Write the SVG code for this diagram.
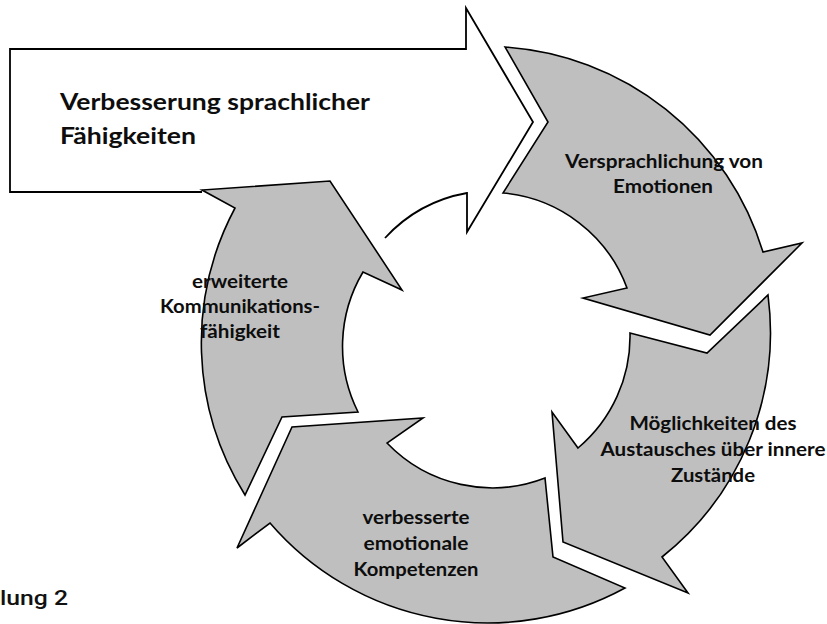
<svg xmlns="http://www.w3.org/2000/svg" width="827" height="624" viewBox="0 0 827 624">
  <style>
    .cyc { fill: #bfbfbf; stroke: #000; stroke-width: 1.6; stroke-linejoin: miter; }
    .wfill { fill: #fff; stroke: none; }
    .wline { fill: none; stroke: #000; stroke-width: 1.8; stroke-linejoin: miter; }
    .lbl { font-family: Lato, "Open Sans", "Liberation Sans", sans-serif; font-weight: bold; fill: #0d0d0d; text-anchor: middle; font-size: 18.5px; }
    .big { font-family: Lato, "Open Sans", "Liberation Sans", sans-serif; font-weight: bold; fill: #0d0d0d; font-size: 23px; }
    .cap { font-family: Roboto, "Liberation Sans", sans-serif; font-weight: 500; fill: #111; font-size: 21px; }
  </style>
  <rect width="827" height="624" fill="#fff"/>

  <g id="node-verbesserung-sprachlicher-faehigkeiten">
    <path class="wfill" d="M 10,49 H 466 V 8 L 533,122 L 467,232 V 193 A 146 146 0 0 0 385,238 L 330,205 L 202,192 H 10 Z"/>
    <path class="wline" d="M 202,192 H 10 V 49 H 466 V 8 L 533,122 L 467,232 V 193 A 146 146 0 0 0 385,238"/>
    <text class="big" x="60" y="110" textLength="310" lengthAdjust="spacingAndGlyphs">Verbesserung sprachlicher</text>
    <text class="big" x="60" y="144" textLength="136" lengthAdjust="spacingAndGlyphs">Fähigkeiten</text>
  </g>

  <g id="node-versprachlichung">
    <path class="cyc" d="M 505,47 A 290 290 0 0 1 763,252 L 802,243 L 710,335 L 583,298 L 627,288 A 146 146 0 0 0 503,193 L 548,122 Z"/>
    <text class="lbl" x="664" y="168" textLength="198" lengthAdjust="spacingAndGlyphs">Versprachlichung von</text>
    <text class="lbl" x="663" y="193" textLength="100" lengthAdjust="spacingAndGlyphs">Emotionen</text>
  </g>

  <g id="node-moeglichkeiten">
    <path class="cyc" d="M 768,295 A 287 287 0 0 1 662,557 L 688,593 L 563,542 L 552,412 L 578,448 A 146 146 0 0 0 630,333 L 707,353 Z"/>
    <text class="lbl" x="713" y="430" textLength="167" lengthAdjust="spacingAndGlyphs">Möglichkeiten des</text>
    <text class="lbl" x="713" y="456" textLength="225" lengthAdjust="spacingAndGlyphs">Austausches über innere</text>
    <text class="lbl" x="713" y="482" textLength="84" lengthAdjust="spacingAndGlyphs">Zustände</text>
  </g>

  <g id="node-emotionale-kompetenzen">
    <path class="cyc" d="M 625,588 A 287 287 0 0 1 270,523 L 237,548 L 292,427 L 423,418 L 387,443 A 146 146 0 0 0 545,478 L 553,557 Z"/>
    <text class="lbl" x="416" y="524" textLength="107" lengthAdjust="spacingAndGlyphs">verbesserte</text>
    <text class="lbl" x="416" y="550" textLength="105" lengthAdjust="spacingAndGlyphs">emotionale</text>
    <text class="lbl" x="416" y="576" textLength="125" lengthAdjust="spacingAndGlyphs">Kompetenzen</text>
  </g>

  <g id="node-kommunikationsfaehigkeit">
    <path class="cyc" d="M 245,495 A 287 287 0 0 1 235,208 L 202,190 L 330,181 L 402,290 L 363,272 A 146 146 0 0 0 358,412 L 282,417 Z"/>
    <text class="lbl" x="240" y="288" textLength="96" lengthAdjust="spacingAndGlyphs">erweiterte</text>
    <text class="lbl" x="240" y="313" textLength="160" lengthAdjust="spacingAndGlyphs">Kommunikations-</text>
    <text class="lbl" x="240" y="338" textLength="80" lengthAdjust="spacingAndGlyphs">fähigkeit</text>
  </g>

  <g id="connectors"></g>

  <text class="cap" x="0" y="605" textLength="68" lengthAdjust="spacingAndGlyphs">lung 2</text>
</svg>
